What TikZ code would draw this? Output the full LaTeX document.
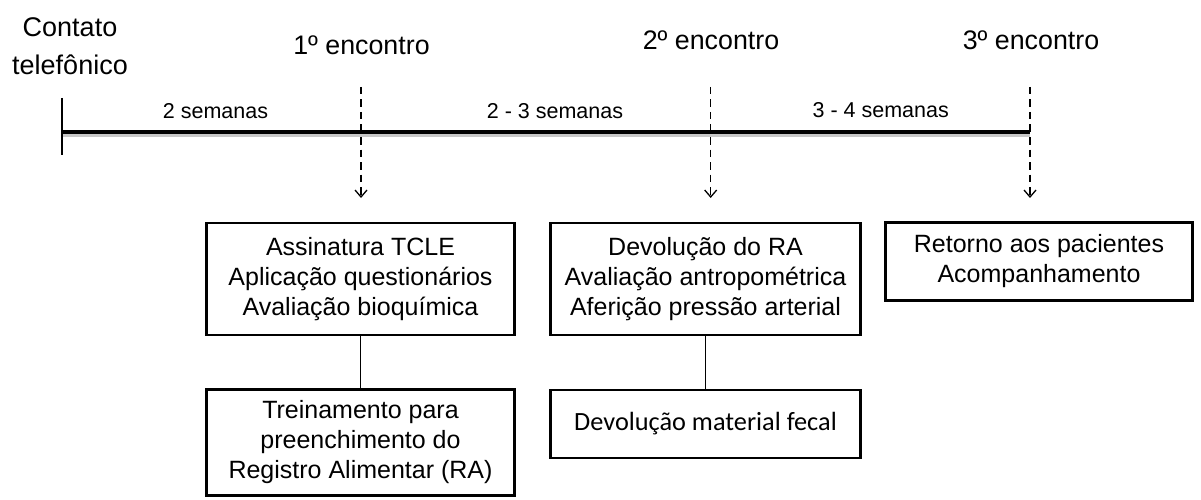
\documentclass[tikz,border=0pt]{standalone}
\usepackage{fontspec}
\setmainfont{Liberation Sans}
\newfontfamily\carlito{Carlito}
\usetikzlibrary{arrows.meta}
\begin{document}
\begin{tikzpicture}[x=1pt,y=-1pt,
  big/.style={font=\fontsize{27}{32}\selectfont, anchor=base, inner sep=0},
  enc/.style={font=\fontsize{26.8}{32}\selectfont, anchor=base, inner sep=0},
  sem/.style={font=\fontsize{21.5}{26}\selectfont, anchor=base, inner sep=0},
  box/.style={draw, line width=2.8pt, align=center, inner sep=0, font=\fontsize{25}{30}\selectfont},
  dasharrow/.style={dash pattern=on 7.5pt off 5pt, line width=1.3pt, -{Straight Barb[length=7pt,width=12pt,line width=1.3pt]}},
  link/.style={line width=1.2pt},
  timeline/.style={line width=4.2pt},
  tshadow/.style={line width=3.5pt, draw=black!22},
  tick/.style={line width=1.5pt}]
\useasboundingbox (0,0) rectangle (1201,500);

% titles
\node[big] (contato) at (70,36.5) {Contato};
\node[big] (telefonico) at (70,74.5) {telefônico};
\node[enc] (enc1) at (361.5,55) {1º encontro};
\node[enc] (enc2) at (711,49.3) {2º encontro};
\node[enc] (enc3) at (1031,49.3) {3º encontro};

% timeline
\coordinate (t0) at (62,132.3);
\coordinate (t3) at (1030,132.3);
\coordinate (tick0) at (62,98);
\coordinate (tick1) at (62,155);
\draw[tshadow] ([yshift=-3pt]t0) -- ([yshift=-3pt]t3);
\draw[timeline] (t0) -- (t3);
\draw[tick] (tick0) -- (tick1);

\node[sem] (s1) at (215.5,118.3) {2 semanas};
\node[sem] (s2) at (555,118.3) {2 - 3 semanas};
\node[sem] (s3) at (880.7,117.5) {3 - 4 semanas};

% dashed arrows
\coordinate (d1a) at (361,87);  \coordinate (d1b) at (361,198);
\coordinate (d2a) at (710.7,87); \coordinate (d2b) at (710.7,198);
\coordinate (d3a) at (1030,87); \coordinate (d3b) at (1030,198);
\draw[dasharrow] (d1a) -- (d1b);
\draw[dasharrow] (d2a) -- (d2b);
\draw[dasharrow] (d3a) -- (d3b);

% boxes
\node[box, minimum width=308pt, minimum height=112pt] (b1) at (360.5,279)
  {Assinatura TCLE\\Aplicação questionários\\Avaliação bioquímica};
\node[box, minimum width=308pt, minimum height=106pt] (b1b) at (360.5,442.5)
  {Treinamento para\\preenchimento do\\Registro Alimentar (RA)};
\node[box, minimum width=310pt, minimum height=112pt] (b2) at (705.5,279)
  {Devolução do RA\\Avaliação antropométrica\\Aferição pressão arterial};
\node[box, minimum width=310pt, minimum height=68pt, font=\carlito\fontsize{26.3}{30}\selectfont] (b2b) at (705.5,424)
  {Devolução material fecal};
\node[box, minimum width=307pt, minimum height=78pt] (b3) at (1039,261.5)
  {Retorno aos pacientes\\Acompanhamento};

\draw[link] (b1.south) -- (b1b.north);
\draw[link] (b2.south) -- (b2b.north);
\end{tikzpicture}
\end{document}
